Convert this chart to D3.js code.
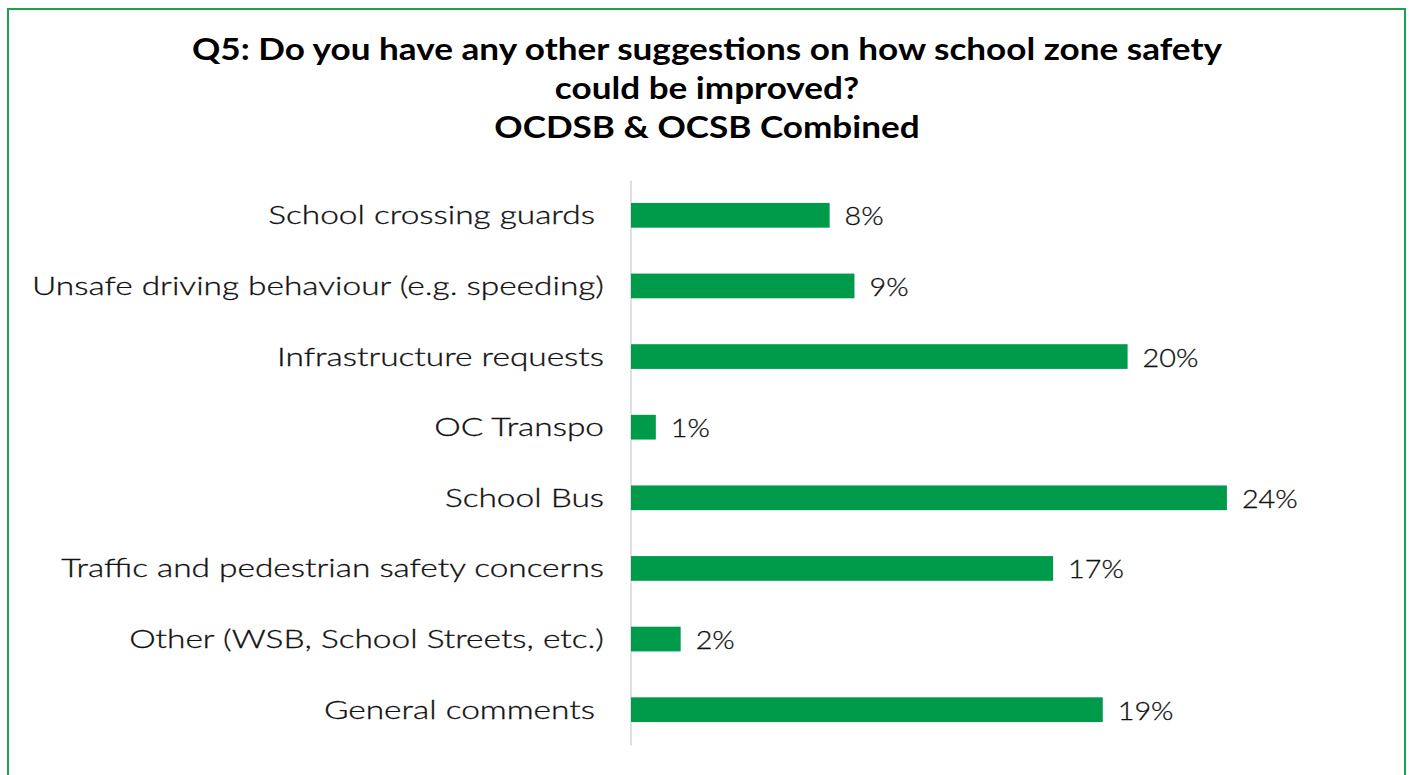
<!DOCTYPE html>
<html>
<head>
<meta charset="utf-8">
<script src="https://cdn.jsdelivr.net/npm/d3@7"></script>
<style>
  html, body { margin: 0; padding: 0; background: #ffffff; }
  svg { display: block; }
  text { white-space: pre; }
</style>
</head>
<body>
<svg id="chart" width="1413" height="775"></svg>
<script>
// Survey responses: share of suggestions by theme
const titleLines = [
  "Q5: Do you have any other suggestions on how school zone safety",
  "could be improved?",
  "OCDSB & OCSB Combined"
];
const categories = [
  "School crossing guards ",
  "Unsafe driving behaviour (e.g. speeding)",
  "Infrastructure requests",
  "OC Transpo",
  "School Bus",
  "Traffic and pedestrian safety concerns",
  "Other (WSB, School Streets, etc.)",
  "General comments "
];
const values = [8, 9, 20, 1, 24, 17, 2, 19];

const W = 1413, H = 775;
const green = "#009b4a";
const textColor = "#111111";
const fontFamily = "Lato, 'Open Sans', 'DejaVu Sans', sans-serif";

const svg = d3.select("#chart");

svg.append("rect")
  .attr("x", 0).attr("y", 0).attr("width", W).attr("height", H)
  .attr("fill", "#ffffff");

// Outer frame
svg.append("rect")
  .attr("x", 8).attr("y", 9)
  .attr("width", 1397).attr("height", 780)
  .attr("fill", "none")
  .attr("stroke", "#1ba24c")
  .attr("stroke-width", 2);

// Scales
const plotLeft = 631;
const x = d3.scaleLinear().domain([0, 25]).range([plotLeft, plotLeft + 25 * 24.83]);
const y = d3.scaleBand()
  .domain(categories)
  .range([180, 745])
  .paddingInner(0.65)
  .paddingOuter(0.325);

// Stretch text horizontally so that a face of the given size covers the wanted width
function fitWidth(sel, factor) {
  sel.each(function () {
    const w = this.getComputedTextLength();
    d3.select(this)
      .attr("textLength", w * factor)
      .attr("lengthAdjust", "spacingAndGlyphs");
  });
}

// Title
const title = svg.append("g").attr("class", "title");
title.selectAll("text")
  .data(titleLines)
  .join("text")
  .attr("x", 707)
  .attr("y", (d, i) => 60 + i * 39)
  .attr("text-anchor", "middle")
  .attr("font-family", fontFamily)
  .attr("font-weight", "bold")
  .attr("font-size", 30)
  .attr("fill", "#000000")
  .text(d => d);
{
  const first = title.select("text").node();
  const factor = 1030 / first.getComputedTextLength();
  fitWidth(title.selectAll("text"), factor);
}

// Category axis line
const yAxis = d3.axisLeft(y).tickSize(0).tickFormat("");
const axisG = svg.append("g")
  .attr("transform", `translate(${plotLeft - 0.5},0)`)
  .call(yAxis);
axisG.select(".domain")
  .attr("stroke", "#d9d9d9")
  .attr("stroke-width", 1.6);

// Bars
svg.append("g").selectAll("rect")
  .data(values)
  .join("rect")
  .attr("x", x(0))
  .attr("y", (d, i) => y(categories[i]))
  .attr("width", d => x(d) - x(0))
  .attr("height", y.bandwidth())
  .attr("fill", green);

// Category labels
const labels = svg.append("g").selectAll("text")
  .data(categories)
  .join("text")
  .attr("x", 604)
  .attr("y", d => y(d) + y.bandwidth() / 2 + 9)
  .attr("text-anchor", "end")
  .attr("font-family", fontFamily)
  .attr("font-weight", 300)
  .attr("font-size", 25)
  .attr("fill", textColor)
  .attr("stroke", textColor)
  .attr("stroke-width", 0.3)
  .text(d => d);

let labelFactor = 1;
{
  const longest = labels.filter((d, i) => i === 1).node();
  labelFactor = 572 / longest.getComputedTextLength();
  fitWidth(labels, labelFactor);
}

// Value labels (digits run narrower than the category text)
const valueLabels = svg.append("g").selectAll("text")
  .data(values)
  .join("text")
  .attr("x", d => x(d) + 15)
  .attr("y", (d, i) => y(categories[i]) + y.bandwidth() / 2 + 10)
  .attr("text-anchor", "start")
  .attr("font-family", fontFamily)
  .attr("font-weight", 300)
  .attr("font-size", 25)
  .attr("fill", textColor)
  .attr("stroke", textColor)
  .attr("stroke-width", 0.3)
  .text(d => d + "%");
fitWidth(valueLabels, labelFactor * 0.86);
</script>
</body>
</html>
